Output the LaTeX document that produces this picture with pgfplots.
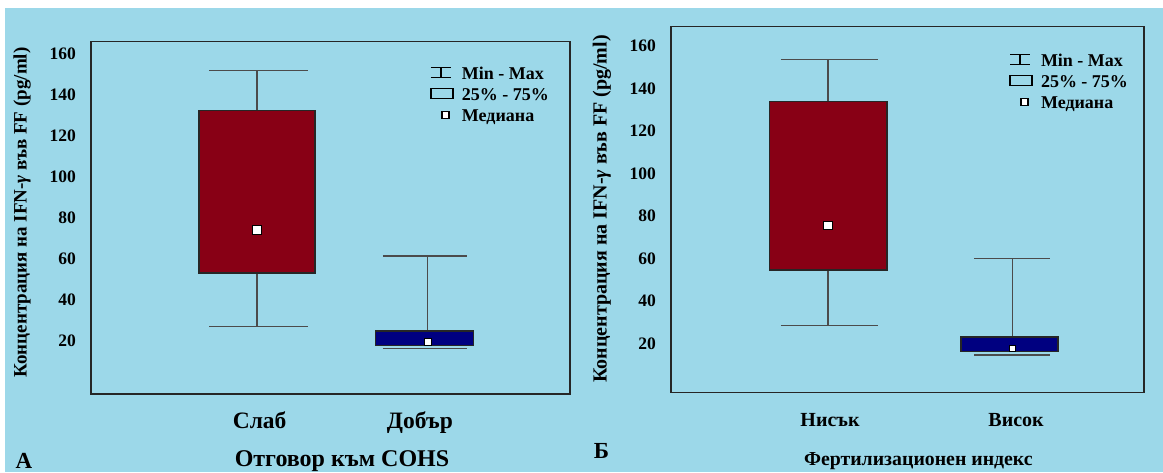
\documentclass[border=0pt]{standalone}
\usepackage{pgfplots}
\pgfplotsset{compat=1.18}
\usepackage{fontspec}
\setmainfont{Liberation Serif}
\newfontfamily\ylfont{Liberation Serif}
\definecolor{bg}{RGB}{156,216,233}
\definecolor{boxred}{RGB}{136,0,21}
\definecolor{boxblue}{RGB}{0,0,128}
\definecolor{wgray}{RGB}{75,75,75}
\newcommand\fsz[1]{\fontsize{#1pt}{#1pt}\selectfont\bfseries}
\pgfplotsset{
  panel/.style={
    scale only axis,
    axis line style={draw=black!85, line width=1.5pt},
    ytick={20,40,...,160},
    major tick length=0pt,
    unbounded coords=jump,
    /pgf/number format/assume math mode=true,
    yticklabel style={font=\fsz{17.5}, inner sep=0pt, xshift=-15pt},
    xticklabel style={anchor=base, inner sep=0pt, yshift=-34pt},
    xlabel style={anchor=base},
    ylabel style={anchor=center},
    legend style={draw=none, fill=none, inner sep=0pt, anchor=north west,
      font=\fsz{18}, row sep=4pt,
      nodes={inner sep=0pt, text height=13pt, text depth=4pt}},
    legend cell align=left,
  },
  whisk/.style={draw=wgray, line width=1.3pt, forget plot},
  boxst/.style={draw=black!85, line width=1.5pt, forget plot},
  lgwhisk/.style={legend image code/.code={
    \draw[line width=1.2pt, black] (0pt,7pt) -- (20pt,7pt);
    \draw[line width=1.2pt, black] (0pt,-3pt) -- (20pt,-3pt);
    \draw[line width=1.2pt, black] (10pt,-3pt) -- (10pt,7pt);
    \path[draw=none, fill=none] (0pt,0pt) -- (31pt,0pt);}},
  lgbox/.style={legend image code/.code={
    \draw[line width=1.2pt, black] (0pt,-3pt) rectangle (22pt,7pt);
    \path[draw=none, fill=none] (0pt,0pt) -- (31pt,0pt);}},
  lgmed/.style={legend image code/.code={
    \draw[line width=1.2pt, black, fill=white] (11pt,-2pt) rectangle (18pt,5pt);
    \path[draw=none, fill=none] (0pt,0pt) -- (31pt,0pt);}},
}
\begin{document}
\begin{tikzpicture}
\fill[white] (0,0) rectangle (1163pt,472pt);
\useasboundingbox (0,0) rectangle (1163pt,472pt);
\fill[bg] (5pt,0) rectangle (1163pt,464pt);

% ---------- Panel A ----------
\begin{axis}[panel,
  at={(91pt,78pt)}, anchor=south west,
  width=479pt, height=352.3pt,
  xmin=0, xmax=2.84, ymin=-6.2, ymax=166,
  xtick={1.0,1.95},
  xticklabels={Слаб, Добър},
  xticklabel style={font=\fsz{23.5}},
  xlabel={Отговор към COHS},
  xlabel style={at={(axis description cs:0.524,-0.207)}, font=\fsz{24}},
  ylabel={\ylfont\bfseries Концентрация на IFN-{\itshape γ} във FF (pg/ml)},
  ylabel style={at={(axis description cs:-0.144,0.515)}, font=\fontsize{19pt}{19pt}\selectfont},
  legend style={at={(axis description cs:0.708,0.931)}},
]
\addlegendimage{lgwhisk}\addlegendentry{Min - Max}
\addlegendimage{lgbox}\addlegendentry{25\% - 75\%}
\addlegendimage{lgmed}\addlegendentry{Медиана}
% Слаб: min 26.8, Q1 52.9, median 74, Q3 132.3, max 152
\addplot[whisk] coordinates {(0.700,152) (1.287,152) (nan,nan) (0.984,152) (0.984,132.3)
  (nan,nan) (0.984,52.9) (0.984,26.8) (nan,nan) (0.700,26.8) (1.287,26.8)};
\addplot[boxst, fill=boxred] coordinates {(0.640,52.9) (1.327,52.9) (1.327,132.3) (0.640,132.3)} -- cycle;
% Добър: min 16.1, Q1 17.4, median 19.2, Q3 24.7, max 61.3
\addplot[whisk] coordinates {(1.731,61.3) (2.229,61.3) (nan,nan) (1.997,61.3) (1.997,24.7)
  (nan,nan) (1.731,16.1) (2.229,16.1)};
\addplot[boxst, fill=boxblue] coordinates {(1.687,17.4) (2.267,17.4) (2.267,24.7) (1.687,24.7)} -- cycle;
\addplot[forget plot, only marks, mark=square*, mark size=4.5pt,
  mark options={fill=white, draw=black, line width=1.2pt}] coordinates {(0.984,74)};
\addplot[forget plot, only marks, mark=square*, mark size=3.3pt,
  mark options={fill=white, draw=black, line width=1.1pt}] coordinates {(1.997,19.2)};
\end{axis}

% ---------- Panel B ----------
\begin{axis}[panel,
  at={(671pt,79.3pt)}, anchor=south west,
  width=473pt, height=366pt,
  xmin=0.147, xmax=2.72, ymin=-3.2, ymax=169,
  xtick={1.012,2.024},
  xticklabels={Нисък, Висок},
  xticklabel style={font=\fsz{20}},
  xlabel={Фертилизационен индекс},
  xlabel style={at={(axis description cs:0.523,-0.198)}, font=\fsz{19.8}},
  ylabel={\ylfont\bfseries Концентрация на IFN-{\itshape γ} във FF (pg/ml)},
  ylabel style={at={(axis description cs:-0.146,0.502)}, font=\fontsize{20pt}{20pt}\selectfont},
  legend style={at={(axis description cs:0.715,0.928)}},
]
\addlegendimage{lgwhisk}\addlegendentry{Min - Max}
\addlegendimage{lgbox}\addlegendentry{25\% - 75\%}
\addlegendimage{lgmed}\addlegendentry{Медиана}
% Нисък: min 28.3, Q1 54.5, median 75.5, Q3 133.7, max 153.6
\addplot[whisk] coordinates {(0.744,153.6) (1.273,153.6) (nan,nan) (1.001,153.6) (1.001,133.7)
  (nan,nan) (1.001,54.5) (1.001,28.3) (nan,nan) (0.744,28.3) (1.273,28.3)};
\addplot[boxst, fill=boxred] coordinates {(0.683,54.5) (1.322,54.5) (1.322,133.7) (0.683,133.7)} -- cycle;
% Висок: min 14.5, Q1 16.1, median 17.7, Q3 22.9, max 59.8
\addplot[whisk] coordinates {(1.796,59.8) (2.209,59.8) (nan,nan) (2.004,59.8) (2.004,22.9)
  (nan,nan) (1.796,14.5) (2.209,14.5)};
\addplot[boxst, fill=boxblue] coordinates {(1.725,16.1) (2.251,16.1) (2.251,22.9) (1.725,22.9)} -- cycle;
\addplot[forget plot, only marks, mark=square*, mark size=4.3pt,
  mark options={fill=white, draw=black, line width=1.2pt}] coordinates {(1.001,75.5)};
\addplot[forget plot, only marks, mark=square*, mark size=3.2pt,
  mark options={fill=white, draw=black, line width=1.1pt}] coordinates {(2.004,17.7)};
\end{axis}

\node[font=\fsz{23}, anchor=base] at (24pt,4pt) {A};
\node[font=\fsz{23}, anchor=base] at (601.5pt,13.7pt) {Б};
\end{tikzpicture}
\end{document}
